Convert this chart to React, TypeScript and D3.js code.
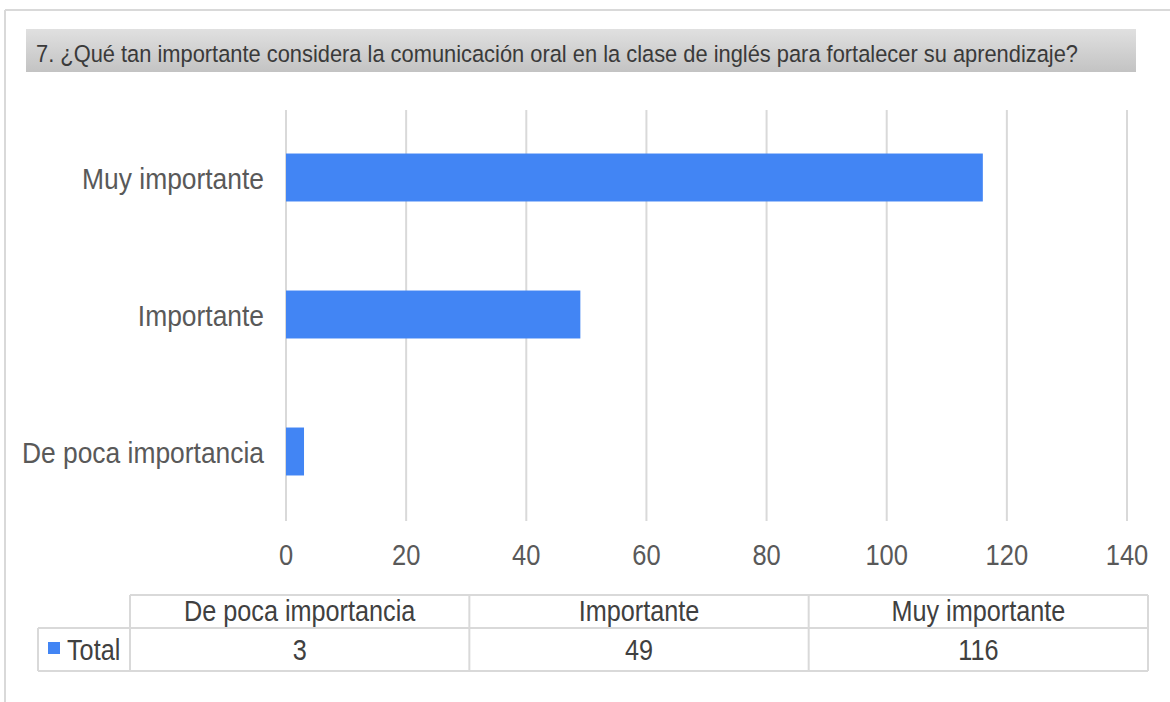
import React from "react";
import * as d3 from "d3";

const title =
  "7. ¿Qué tan importante considera la comunicación oral en la clase de inglés para fortalecer su aprendizaje?";
const categories = ["De poca importancia", "Importante", "Muy importante"];
const values = [3, 49, 116];
const seriesName = "Total";
const xTicks = [0, 20, 40, 60, 80, 100, 120, 140];

const W = 1170;
const H = 702;
const BLUE = "#4285F4";
const GRID = "#d9d9d9";
const FONT = "'Liberation Sans', Arial, sans-serif";

function T({ x, y, size = 29, sx = 0.87, anchor = "middle", fill = "#595959", children }: any) {
  return (
    <text
      transform={`translate(${x},${y}) scale(${sx},1)`}
      fontSize={size}
      textAnchor={anchor}
      fill={fill}
      fontFamily={FONT}
    >
      {children}
    </text>
  );
}

export default function App() {
  const x = d3.scaleLinear().domain([0, 140]).range([286, 1127]);
  const yOrder = [...categories].reverse();
  const y = d3
    .scaleBand<string>()
    .domain(yOrder)
    .range([109, 520])
    .paddingInner(0.65)
    .paddingOuter(0.325);
  const col = d3.scaleBand<string>().domain(categories).range([130, 1148]);

  const hTop = 595;
  const hMid = 628;
  const hBot = 671;
  const legendLeft = 38;

  return (
    <svg
      width={W}
      height={H}
      style={{ position: "absolute", left: 0, top: 0, background: "#fff" }}
    >
      <defs>
        <linearGradient id="tg" x1="0" y1="0" x2="0" y2="1">
          <stop offset="0" stopColor="#e0e0e0" />
          <stop offset="1" stopColor="#c3c3c3" />
        </linearGradient>
      </defs>
      <rect x={0} y={0} width={W} height={H} fill="#fff" />
      {/* outer frame */}
      <line x1={5} y1={10} x2={W} y2={10} stroke={GRID} strokeWidth={2} />
      <line x1={5} y1={10} x2={5} y2={H} stroke={GRID} strokeWidth={2} />

      {/* title bar */}
      <rect x={26} y={29} width={1110} height={43} fill="url(#tg)" />
      <text
        transform="translate(36,62) scale(1,1.08)"
        fontSize={22}
        fill="#3a3a3a"
        fontFamily={FONT}
        textLength={1042}
        lengthAdjust="spacingAndGlyphs"
      >
        {title}
      </text>

      {/* grid */}
      {xTicks.map((t) => (
        <line
          key={t}
          x1={x(t)}
          x2={x(t)}
          y1={110}
          y2={521}
          stroke={GRID}
          strokeWidth={2}
        />
      ))}

      {/* bars */}
      {categories.map((c, i) => (
        <rect
          key={c}
          x={x(0)}
          y={y(c)!}
          width={x(values[i]) - x(0)}
          height={y.bandwidth()}
          fill={BLUE}
        />
      ))}

      {/* category labels */}
      {categories.map((c) => (
        <T key={c} x={264} y={y(c)! + y.bandwidth() / 2 + 11} anchor="end" size={30} sx={0.88}>
          {c}
        </T>
      ))}

      {/* x tick labels */}
      {xTicks.map((t) => (
        <T key={t} x={x(t)} y={565} size={30} sx={0.85}>
          {t}
        </T>
      ))}

      {/* data table */}
      <g stroke={GRID} strokeWidth={2}>
        <line x1={130} x2={1148} y1={hTop} y2={hTop} />
        <line x1={legendLeft} x2={1148} y1={hMid} y2={hMid} />
        <line x1={legendLeft} x2={1148} y1={hBot} y2={hBot} />
        <line x1={legendLeft} x2={legendLeft} y1={hMid} y2={hBot} />
        {categories.map((c) => (
          <line key={c} x1={col(c)!} x2={col(c)!} y1={hTop} y2={hBot} />
        ))}
        <line x1={1148} x2={1148} y1={hTop} y2={hBot} />
      </g>
      {categories.map((c, i) => (
        <g key={c}>
          <T x={col(c)! + col.bandwidth() / 2} y={621} fill="#404040">
            {c}
          </T>
          <T x={col(c)! + col.bandwidth() / 2} y={660} fill="#404040">
            {values[i]}
          </T>
        </g>
      ))}
      <rect x={48} y={642} width={12} height={12} fill={BLUE} />
      <T x={67} y={660} anchor="start" fill="#404040">
        {seriesName}
      </T>
    </svg>
  );
}
